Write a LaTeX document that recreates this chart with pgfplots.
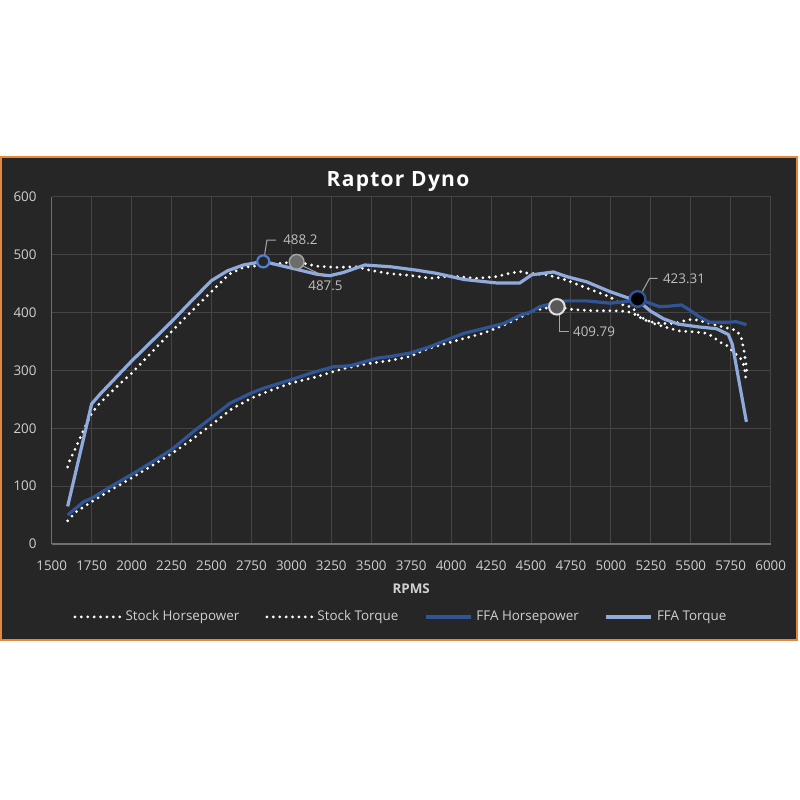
\documentclass[border=0pt]{standalone}
\usepackage{pgfplots}
\pgfplotsset{compat=1.18}
\usepackage{fontspec}
\setmainfont{Open Sans}
\newfontfamily\titlefont[LetterSpace=6]{Open Sans}
\definecolor{bg}{HTML}{262626}
\definecolor{border}{HTML}{E3893F}
\definecolor{gridc}{HTML}{444444}
\definecolor{axc}{HTML}{707070}
\definecolor{txt}{HTML}{D0D0D0}
\definecolor{labelc}{HTML}{BFBFBF}
\definecolor{ffahp}{HTML}{2F5597}
\definecolor{ffatq}{HTML}{8FAADC}
\definecolor{ringblue}{HTML}{4F81D0}
\definecolor{lead}{HTML}{A6A6A6}
\begin{document}
\begin{tikzpicture}
\useasboundingbox (0,0) rectangle (400pt,400pt);
\fill[white] (0,0) rectangle (400pt,400pt);
\fill[bg, draw=border, line width=0.9pt] (0.6pt,80pt) rectangle (398.4pt,321.5pt);
\begin{axis}[
  at={(25.85pt,128pt)}, anchor=south west,
  scale only axis, width=359.5pt, height=173.65pt,
  xmin=1500, xmax=6000, ymin=0, ymax=600,
  xtick={1500,1750,...,6000}, ytick={0,100,...,600},
  grid=major, major grid style={gridc, line width=0.5pt},
  axis x line=bottom, axis y line=left,
  axis line style={axc, line width=0.6pt, -},
  major tick length=0pt,
  tick label style={font=\fontsize{6.7}{8}\selectfont, text=txt},
  /pgf/number format/assume math mode=true,
  /pgf/number format/set thousands separator={},
  xticklabel style={anchor=base, inner sep=0pt, yshift=-13pt},
  yticklabel style={anchor=east, inner sep=0pt, xshift=-7.4pt},
  title={Raptor Dyno},
  title style={at={(0.4817,1.0308)}, anchor=base, inner sep=0pt, yshift=-6pt, text=white,
    font={\titlefont\fontsize{10.5}{12}\selectfont\bfseries}},
  xlabel={RPMS},
  xlabel style={at={(axis description cs:0.5,0)}, anchor=base, inner sep=0pt,
    yshift=-24.6pt, text=txt, font={\fontsize{6.7}{8}\selectfont\bfseries}},
  legend columns=4,
  legend cell align=left,
  legend style={at={(0.487,-0.21)}, anchor=center, draw=none, fill=none,
    font=\fontsize{6.7}{8}\selectfont, text=txt,
    /tikz/every even column/.append style={column sep=11pt}},
  legend image code/.code={\draw[#1] (0pt,0pt) -- (22.5pt,0pt);},
  clip=false,
]
\addplot[white, line width=1.55pt, line cap=round, dash pattern=on 0pt off 3.2pt] coordinates {
(1600,40) (1650,55) (1750,73) (1875,94) (2000,114) (2125,135) (2250,156) (2375,180)
(2500,206) (2625,233) (2750,252) (2875,266) (3000,278) (3160,289) (3325,303) (3490,312)
(3620,317) (3745,324) (3830,335) (3910,342) (4080,355) (4200,364) (4330,378) (4450,394)
(4515,403) (4600,408) (4665,409.79) (4765,405) (4890,403) (5015,403) (5100,402) (5140,398)
(5170,394) (5200,388) (5245,384) (5285,382) (5330,381) (5400,381) (5450,385) (5500,388)
(5540,387) (5620,381) (5700,375) (5785,369) (5815,358) (5832,335) (5845,312) (5850,298)};
\addlegendentry{Stock Horsepower}
\addplot[white, line width=1.55pt, line cap=round, dash pattern=on 0pt off 3.2pt] coordinates {
(1600,133) (1615,146) (1645,163) (1700,197) (1750,226) (1800,243) (1900,270) (2000,295)
(2125,331) (2250,367) (2375,402) (2500,436) (2610,466) (2700,478) (2800,481) (2900,484)
(3030,487.5) (3160,480) (3285,478) (3410,479) (3490,473) (3620,467) (3745,464) (3870,459)
(3995,463) (4160,459) (4285,462) (4370,468) (4450,471) (4475,468) (4600,465) (4720,456)
(4850,442) (4995,427) (5060,414) (5100,412) (5140,407) (5160,399) (5180,392.5) (5225,387)
(5265,381) (5350,374) (5430,368) (5515,366.6) (5600,364) (5640,358) (5680,349) (5725,343)
(5765,332) (5805,323) (5825,315) (5838,300) (5848,278)};
\addlegendentry{Stock Torque}
\addplot[ffahp, line width=1.6pt, line join=round] coordinates {
(1600,50) (1700,73) (1750,79) (1875,100) (2000,120) (2125,141) (2250,163) (2400,197)
(2500,218) (2615,243) (2750,261) (2825,269) (3000,284) (3120,295) (3260,306) (3370,308)
(3535,321) (3620,324) (3745,330) (3870,341) (3995,355) (4080,364) (4200,372) (4330,381)
(4430,395) (4500,401) (4555,410) (4680,418.7) (4720,420) (4850,420) (4995,416) (5100,419)
(5167,423.31) (5244,416) (5306,410) (5369,411) (5442,413) (5494,404) (5556,392) (5619,383)
(5723,383) (5785,384) (5848,379)};
\addlegendentry{FFA Horsepower}
\addplot[ffatq, line width=1.6pt, line join=round] coordinates {
(1600,65) (1750,242) (1800,258) (1900,287) (2000,316) (2125,350) (2250,384) (2375,420)
(2500,455) (2600,472) (2700,482) (2824,488.2) (3010,476) (3160,466) (3240,463.5) (3325,469)
(3460,482) (3620,479) (3785,473) (3910,467.5) (4080,457) (4285,451) (4430,451) (4504,465)
(4640,470) (4723,462) (4848,453) (4994,436) (5119,424) (5167,421) (5250,402) (5330,389)
(5420,380) (5550,375) (5660,372) (5735,362) (5760,345) (5800,284) (5848,211)};
\addlegendentry{FFA Torque}
% highlighted points
\addplot[forget plot, only marks, mark=*, mark size=3pt,
  mark options={solid, fill=bg, draw=ringblue, line width=1.1pt}] coordinates {(2824,488.2)};
\addplot[forget plot, only marks, mark=*, mark size=3.7pt,
  mark options={solid, fill=gray!85!black, draw=lead, line width=0.7pt}] coordinates {(3033,487.5)};
\addplot[forget plot, only marks, mark=*, mark size=3.9pt,
  mark options={solid, fill=black!65, draw=white!88!black, line width=1pt}] coordinates {(4662,409.79)};
\addplot[forget plot, only marks, mark=*, mark size=3.9pt,
  mark options={solid, fill=black, draw=ffahp, line width=1.2pt}] coordinates {(5167,423.31)};
% leader lines and labels
\draw[lead, line width=0.5pt] (axis cs:2830,495) -- (axis cs:2847,525) -- (axis cs:2905,525);
\node[anchor=west, inner sep=0pt, text=labelc, font=\fontsize{6.7}{8}\selectfont] at (axis cs:2947,525) {488.2};
\draw[lead, line width=0.5pt] (axis cs:3045,484) -- (axis cs:3210,462);
\node[anchor=west, inner sep=0pt, text=labelc, font=\fontsize{6.7}{8}\selectfont] at (axis cs:3104,446) {487.5};
\draw[lead, line width=0.5pt] (axis cs:4676,400) -- (axis cs:4676,367) -- (axis cs:4735,367);
\node[anchor=west, inner sep=0pt, text=labelc, font=\fontsize{6.7}{8}\selectfont] at (axis cs:4761,367) {409.79};
\draw[lead, line width=0.5pt] (axis cs:5179,427) -- (axis cs:5242,459) -- (axis cs:5292,459);
\node[anchor=west, inner sep=0pt, text=labelc, font=\fontsize{6.7}{8}\selectfont] at (axis cs:5324,459) {423.31};
\end{axis}
\end{tikzpicture}
\end{document}
